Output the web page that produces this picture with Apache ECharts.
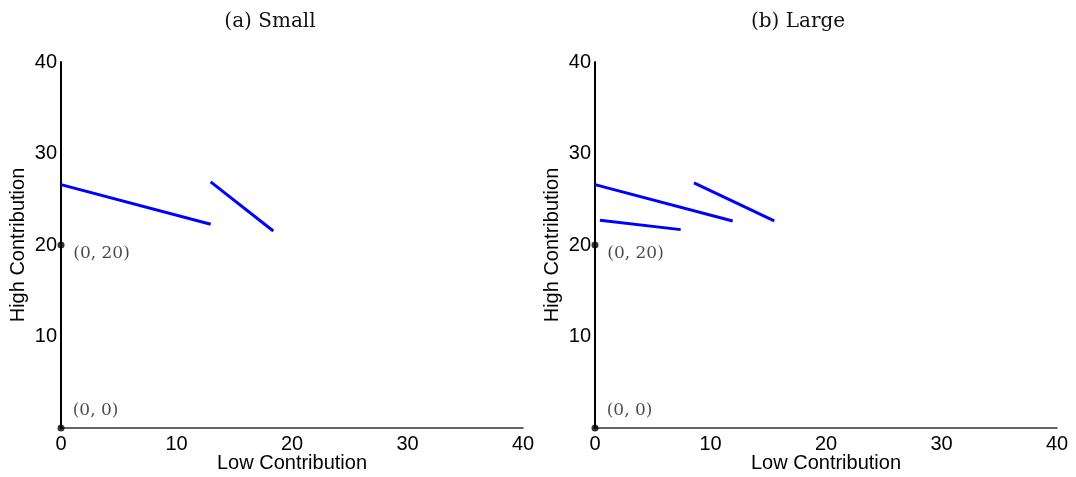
<!DOCTYPE html>
<html>
<head>
<meta charset="utf-8">
<script src="https://cdn.jsdelivr.net/npm/echarts@6/dist/echarts.min.js"></script>
<style>
  html, body { margin: 0; padding: 0; background: #fff; }
  #chart { width: 1076px; height: 477px; }
</style>
</head>
<body>
<div id="chart"></div>
<script>
// Panel captions and axis text
const panelTitles = ['(a) Small', '(b) Large'];
const xAxisName = 'Low Contribution';
const yAxisName = 'High Contribution';
const axisMin = 0;
const axisMax = 40;
const axisStep = 10;

// Best-response segments, each one [[x0, y0], [x1, y1]]
const smallSegments = [
  [[0, 26.6], [12.96, 22.26]],
  [[12.96, 26.9], [18.38, 21.53]]
];
const largeSegments = [
  [[0, 26.6], [11.92, 22.63]],
  [[8.57, 26.78], [15.52, 22.63]],
  [[0.43, 22.7], [7.42, 21.68]]
];

// Reference points on the vertical axis
const markedPoints = [[0, 20], [0, 0]];
const markedLabels = ['(0, 20)', '(0, 0)'];

const sans = 'Liberation Sans, Arial, Helvetica, sans-serif';
const serif = 'DejaVu Serif, serif';

const grids = [
  { left: 61, top: 62, width: 462, height: 366, outerBoundsMode: 'none', containLabel: false },
  { left: 595, top: 62, width: 462, height: 366, outerBoundsMode: 'none', containLabel: false }
];
// horizontal centres of the two captions
const titleCentres = [270, 798];

function xAxisFor(i) {
  return {
    gridIndex: i, type: 'value', min: axisMin, max: axisMax, interval: axisStep,
    name: xAxisName, nameLocation: 'middle', nameGap: 25, nameMoveOverlap: false,
    nameTextStyle: { fontFamily: sans, fontSize: 20, color: '#000' },
    axisLine: { show: true, onZero: false, lineStyle: { color: '#333', width: 1.6 } },
    axisTick: { show: false },
    splitLine: { show: false },
    axisLabel: { fontFamily: sans, fontSize: 20, color: '#000', margin: 6, showMinLabel: true, showMaxLabel: true }
  };
}
function yAxisFor(i) {
  return {
    gridIndex: i, type: 'value', min: axisMin, max: axisMax, interval: axisStep,
    name: yAxisName, nameLocation: 'middle', nameGap: 33, nameMoveOverlap: false,
    nameTextStyle: { fontFamily: sans, fontSize: 20, color: '#000' },
    axisLine: { show: true, onZero: false, lineStyle: { color: '#000', width: 2 } },
    axisTick: { show: false },
    splitLine: { show: false },
    // the origin is already labelled on the horizontal axis
    axisLabel: { fontFamily: sans, fontSize: 20, color: '#000', margin: 4, showMinLabel: false, showMaxLabel: true }
  };
}

// label placement relative to each dot's symbol box
const labelPlacement = [[15.8, 12.3], [15.2, -13.8]];

const series = [];
[smallSegments, largeSegments].forEach((segs, gi) => {
  segs.forEach(seg => {
    series.push({
      type: 'line', xAxisIndex: gi, yAxisIndex: gi,
      data: seg, symbol: 'none', clip: false, silent: true,
      lineStyle: { color: '#0000ff', width: 3, cap: 'butt' },
      z: 3
    });
  });
  series.push({
    type: 'scatter', xAxisIndex: gi, yAxisIndex: gi,
    symbolSize: 7, clip: false, silent: true, z: 5,
    itemStyle: { color: '#000' },
    data: markedPoints.map((p, k) => ({
      value: p,
      label: {
        show: true,
        formatter: markedLabels[k],
        position: labelPlacement[k],
        align: 'left', verticalAlign: 'middle',
        fontFamily: serif, fontSize: 17, color: '#1a1a2a'
      }
    }))
  });
});

const chart = echarts.init(document.getElementById('chart'), null, { renderer: 'canvas' });
chart.setOption({
  animation: false,
  backgroundColor: '#fff',
  title: panelTitles.map((t, i) => ({
    text: t,
    left: titleCentres[i] - 5,
    top: 7,
    textAlign: 'center',
    textStyle: { fontFamily: serif, fontSize: 20, fontWeight: 'normal', color: '#111' }
  })),
  grid: grids,
  xAxis: [xAxisFor(0), xAxisFor(1)],
  yAxis: [yAxisFor(0), yAxisFor(1)],
  series: series
});
</script>
</body>
</html>
